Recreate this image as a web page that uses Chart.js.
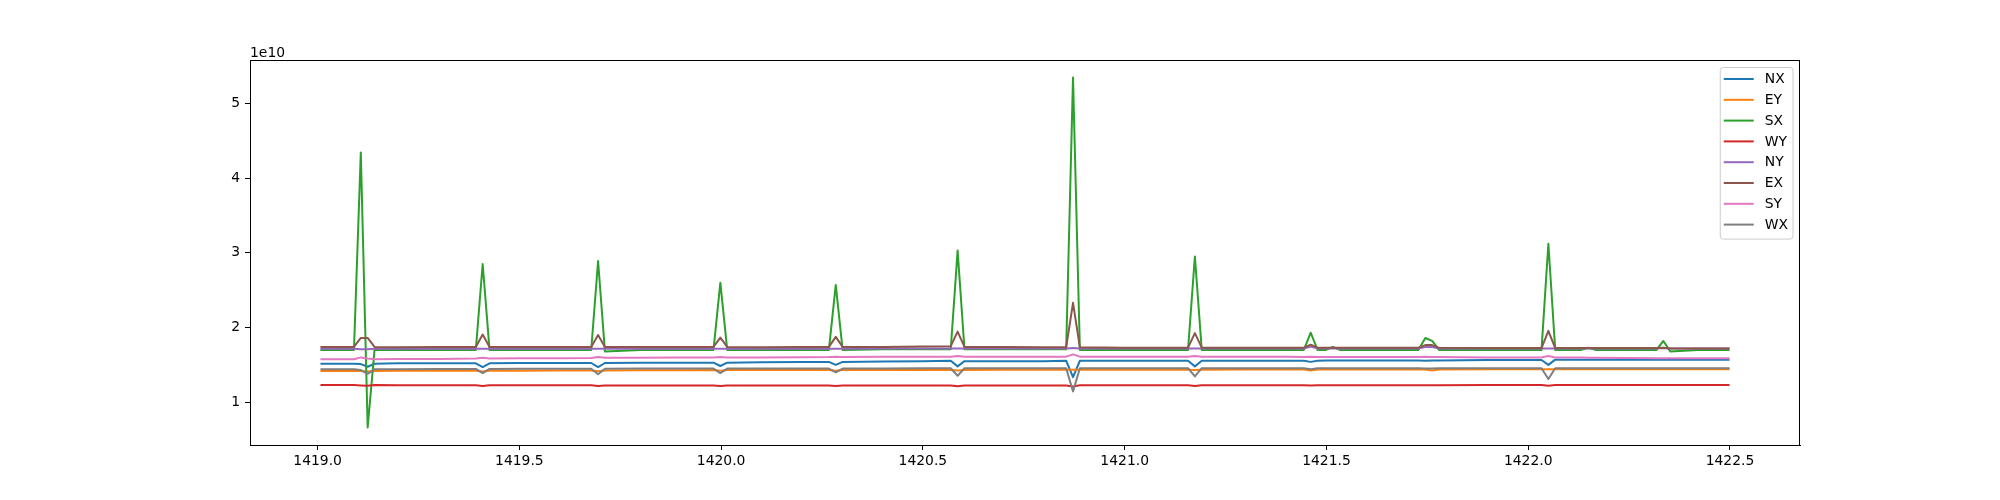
<!DOCTYPE html>
<html>
<head>
<meta charset="utf-8">
<title>NX / EY / SX / WY / NY / EX / SY / WX</title>
<script src="https://cdn.jsdelivr.net/npm/chart.js@4.4.1/dist/chart.umd.min.js"></script>
<style>
    html, body { margin: 0; padding: 0; background: #fff; }
    canvas { display: block; }
</style>
</head>
<body>
<canvas id="chart" width="2000" height="500"></canvas>
<script>
// ===== data (values in units of 1e10) =====

const times = [
    1419.007, 1419.050, 1419.090, 1419.107, 1419.124, 1419.141, 1419.200, 1419.300, 1419.392, 1419.409,
    1419.426, 1419.500, 1419.600, 1419.678, 1419.695, 1419.712, 1419.800, 1419.900, 1419.981, 1419.998,
    1420.015, 1420.100, 1420.200, 1420.267, 1420.284, 1420.301, 1420.400, 1420.500, 1420.569, 1420.586,
    1420.603, 1420.700, 1420.800, 1420.855, 1420.872, 1420.889, 1421.000, 1421.100, 1421.157, 1421.174,
    1421.191, 1421.300, 1421.400, 1421.444, 1421.461, 1421.478, 1421.499, 1421.516, 1421.533, 1421.600,
    1421.700, 1421.728, 1421.745, 1421.762, 1421.779, 1421.900, 1422.000, 1422.033, 1422.050, 1422.067,
    1422.132, 1422.149, 1422.166, 1422.250, 1422.318, 1422.335, 1422.352, 1422.420, 1422.499
];

const NX = [
    1.515, 1.515, 1.515, 1.51, 1.475, 1.515, 1.52, 1.52, 1.52, 1.47,
    1.52, 1.525, 1.525, 1.525, 1.47, 1.525, 1.53, 1.53, 1.53, 1.485,
    1.53, 1.535, 1.54, 1.54, 1.50, 1.54, 1.545, 1.55, 1.555, 1.48,
    1.55, 1.55, 1.55, 1.555, 1.335, 1.555, 1.555, 1.555, 1.555, 1.48,
    1.555, 1.555, 1.555, 1.555, 1.54, 1.555, 1.56, 1.56, 1.56, 1.56,
    1.56, 1.56, 1.555, 1.56, 1.56, 1.565, 1.565, 1.565, 1.50, 1.57,
    1.57, 1.57, 1.57, 1.57, 1.57, 1.57, 1.57, 1.57, 1.57
];

const EY = [
    1.418, 1.418, 1.418, 1.418, 1.41, 1.418, 1.42, 1.42, 1.42, 1.41,
    1.42, 1.422, 1.425, 1.425, 1.415, 1.425, 1.427, 1.428, 1.43, 1.42,
    1.43, 1.43, 1.43, 1.43, 1.42, 1.432, 1.432, 1.432, 1.432, 1.425,
    1.433, 1.434, 1.435, 1.435, 1.435, 1.435, 1.436, 1.436, 1.436, 1.43,
    1.436, 1.437, 1.437, 1.437, 1.425, 1.437, 1.437, 1.437, 1.437, 1.438,
    1.438, 1.438, 1.438, 1.425, 1.438, 1.44, 1.44, 1.44, 1.44, 1.44,
    1.44, 1.44, 1.44, 1.44, 1.44, 1.44, 1.44, 1.44, 1.44
];

const SX = [
    1.70, 1.70, 1.70, 4.34, 0.662, 1.70, 1.70, 1.70, 1.70, 2.85,
    1.70, 1.70, 1.70, 1.70, 2.89, 1.68, 1.70, 1.70, 1.70, 2.60,
    1.70, 1.70, 1.70, 1.70, 2.57, 1.70, 1.71, 1.71, 1.71, 3.03,
    1.71, 1.71, 1.71, 1.71, 5.345, 1.70, 1.70, 1.70, 1.70, 2.95,
    1.70, 1.70, 1.70, 1.70, 1.93, 1.70, 1.70, 1.74, 1.70, 1.70,
    1.70, 1.70, 1.86, 1.82, 1.70, 1.70, 1.70, 1.70, 3.12, 1.70,
    1.70, 1.73, 1.70, 1.70, 1.70, 1.82, 1.68, 1.70, 1.70
];

const WY = [
    1.23, 1.23, 1.23, 1.225, 1.222, 1.23, 1.228, 1.228, 1.228, 1.218,
    1.226, 1.226, 1.226, 1.226, 1.218, 1.225, 1.225, 1.225, 1.225, 1.218,
    1.224, 1.224, 1.224, 1.224, 1.218, 1.224, 1.224, 1.224, 1.224, 1.215,
    1.224, 1.224, 1.224, 1.224, 1.21, 1.226, 1.226, 1.226, 1.226, 1.216,
    1.228, 1.228, 1.228, 1.228, 1.224, 1.228, 1.228, 1.228, 1.228, 1.228,
    1.228, 1.228, 1.226, 1.226, 1.228, 1.23, 1.23, 1.23, 1.222, 1.23,
    1.23, 1.23, 1.23, 1.232, 1.232, 1.232, 1.232, 1.232, 1.232
];

const NY = [
    1.715, 1.715, 1.715, 1.71, 1.71, 1.715, 1.715, 1.715, 1.715, 1.715,
    1.715, 1.715, 1.715, 1.715, 1.715, 1.715, 1.715, 1.715, 1.715, 1.715,
    1.715, 1.715, 1.715, 1.715, 1.715, 1.715, 1.718, 1.72, 1.72, 1.72,
    1.72, 1.72, 1.72, 1.72, 1.725, 1.72, 1.72, 1.72, 1.72, 1.72,
    1.72, 1.72, 1.72, 1.72, 1.745, 1.72, 1.72, 1.72, 1.72, 1.72,
    1.72, 1.72, 1.74, 1.74, 1.72, 1.72, 1.72, 1.72, 1.72, 1.72,
    1.72, 1.72, 1.72, 1.72, 1.72, 1.725, 1.72, 1.72, 1.72
];

const EX = [
    1.74, 1.74, 1.74, 1.86, 1.86, 1.74, 1.735, 1.74, 1.74, 1.905,
    1.74, 1.74, 1.74, 1.74, 1.90, 1.74, 1.74, 1.74, 1.74, 1.865,
    1.74, 1.735, 1.74, 1.74, 1.875, 1.74, 1.74, 1.745, 1.75, 1.945,
    1.74, 1.74, 1.735, 1.735, 2.33, 1.735, 1.73, 1.73, 1.73, 1.925,
    1.73, 1.73, 1.73, 1.73, 1.77, 1.73, 1.73, 1.73, 1.73, 1.73,
    1.73, 1.73, 1.765, 1.765, 1.73, 1.725, 1.725, 1.725, 1.955, 1.725,
    1.725, 1.725, 1.725, 1.725, 1.725, 1.73, 1.72, 1.72, 1.72
];

const SY = [
    1.575, 1.575, 1.575, 1.60, 1.585, 1.575, 1.578, 1.58, 1.585, 1.595,
    1.585, 1.588, 1.59, 1.592, 1.605, 1.595, 1.595, 1.597, 1.598, 1.605,
    1.60, 1.60, 1.603, 1.605, 1.61, 1.605, 1.607, 1.61, 1.61, 1.62,
    1.61, 1.61, 1.61, 1.61, 1.64, 1.61, 1.61, 1.61, 1.61, 1.62,
    1.61, 1.61, 1.61, 1.605, 1.61, 1.605, 1.605, 1.605, 1.605, 1.605,
    1.605, 1.605, 1.61, 1.605, 1.605, 1.60, 1.60, 1.60, 1.62, 1.60,
    1.598, 1.596, 1.595, 1.593, 1.59, 1.59, 1.59, 1.588, 1.588
];

const WX = [
    1.44, 1.44, 1.44, 1.43, 1.38, 1.44, 1.443, 1.445, 1.445, 1.39,
    1.445, 1.447, 1.447, 1.447, 1.375, 1.447, 1.45, 1.45, 1.45, 1.39,
    1.45, 1.45, 1.45, 1.45, 1.40, 1.45, 1.452, 1.455, 1.455, 1.355,
    1.455, 1.455, 1.455, 1.455, 1.145, 1.455, 1.455, 1.455, 1.455, 1.345,
    1.455, 1.455, 1.455, 1.455, 1.44, 1.455, 1.455, 1.455, 1.455, 1.455,
    1.455, 1.455, 1.45, 1.45, 1.455, 1.455, 1.455, 1.455, 1.31, 1.455,
    1.455, 1.455, 1.455, 1.455, 1.455, 1.455, 1.455, 1.455, 1.455
];

const seriesNames = ['NX', 'EY', 'SX', 'WY', 'NY', 'EX', 'SY', 'WX'];
const seriesValues = [NX, EY, SX, WY, NY, EX, SY, WX];
const seriesColors = ['#1f77b4', '#ff7f0e', '#2ca02c', '#d62728', '#9467bd', '#8c564b', '#e377c2', '#7f7f7f'];

const xTickValues = [1419.0, 1419.5, 1420.0, 1420.5, 1421.0, 1421.5, 1422.0, 1422.5];
const yTickValues = [1, 2, 3, 4, 5];
const yOffsetLabel = '1e10';

// ===== helpers =====

const FONT_FAMILY = "'DejaVu Sans', sans-serif";
const FONT_SIZE = 13.9;

// autoscale like matplotlib: 5% margin on each side
function paddedRange(values) {
    const lo = Math.min(...values);
    const hi = Math.max(...values);
    const pad = (hi - lo) * 0.05;
    return { min: lo - pad, max: hi + pad };
}

const xRange = paddedRange(times);
const yRange = paddedRange(seriesValues.flat());

// black box round the plot area
const framePlugin = {
    id: 'frame',
    afterDatasetsDraw(chart) {
        const { ctx, chartArea: a } = chart;
        ctx.save();
        ctx.strokeStyle = '#000';
        ctx.lineWidth = 1;
        ctx.strokeRect(Math.round(a.left) + 0.5, Math.round(a.top) + 0.5,
            Math.round(a.right - a.left) - 1, Math.round(a.bottom - a.top));
        ctx.restore();
    }
};

// the "1e10" scale text above the y axis
const offsetTextPlugin = {
    id: 'offsetText',
    afterDraw(chart) {
        const { ctx, chartArea: a } = chart;
        ctx.save();
        ctx.font = `${FONT_SIZE}px ${FONT_FAMILY}`;
        ctx.fillStyle = '#000';
        ctx.textAlign = 'left';
        ctx.textBaseline = 'alphabetic';
        ctx.fillText(yOffsetLabel, a.left, a.top - 3.5);
        ctx.restore();
    }
};

// legend box in the upper right corner of the plot area
const legendPlugin = {
    id: 'boxLegend',
    afterDraw(chart) {
        const { ctx, chartArea: a } = chart;
        const datasets = chart.data.datasets;
        ctx.save();
        ctx.font = `${FONT_SIZE}px ${FONT_FAMILY}`;
        const maxW = Math.max(...datasets.map(d => ctx.measureText(d.label).width));
        const rowH = 20.8;
        const boxRight = a.right - 7;
        const boxTop = a.top + 7.5;
        const textX = boxRight - 5 - maxW;
        const handleEnd = textX - 11;
        const handleStart = handleEnd - 30;
        const boxLeft = handleStart - 3.5;
        const boxBottom = boxTop + 11.5 + rowH * (datasets.length - 1) + 14.5;

        ctx.beginPath();
        ctx.roundRect(boxLeft, boxTop, boxRight - boxLeft, boxBottom - boxTop, 3);
        ctx.fillStyle = 'rgba(255,255,255,0.8)';
        ctx.fill();
        ctx.strokeStyle = '#cccccc';
        ctx.lineWidth = 1;
        ctx.stroke();

        ctx.textAlign = 'left';
        ctx.textBaseline = 'middle';
        datasets.forEach((d, i) => {
            const y = boxTop + 11.5 + i * rowH;
            ctx.beginPath();
            ctx.moveTo(handleStart, y);
            ctx.lineTo(handleEnd, y);
            ctx.strokeStyle = d.borderColor;
            ctx.lineWidth = 2;
            ctx.stroke();
            ctx.fillStyle = '#000';
            ctx.fillText(d.label, textX, y + 0.5);
        });
        ctx.restore();
    }
};

// ===== chart =====

const datasets = seriesNames.map((name, i) => ({
    label: name,
    data: times.map((t, k) => ({ x: t, y: seriesValues[i][k] })),
    borderColor: seriesColors[i],
    backgroundColor: seriesColors[i],
    borderWidth: 2,
    borderJoinStyle: 'round',
    pointRadius: 0,
    tension: 0,
    fill: false,
    // later series on top, as in the reference
    order: seriesNames.length - i
}));

const tickFont = { family: FONT_FAMILY, size: FONT_SIZE };

new Chart(document.getElementById('chart'), {
    type: 'line',
    data: { datasets },
    options: {
        responsive: false,
        animation: false,
        events: [],
        layout: { padding: { top: 60, right: 200, left: 0, bottom: 0 } },
        plugins: {
            legend: { display: false },
            tooltip: { enabled: false }
        },
        scales: {
            x: {
                type: 'linear',
                min: xRange.min,
                max: xRange.max,
                afterFit: (scale) => { scale.height = 55; },
                afterBuildTicks: (scale) => { scale.ticks = xTickValues.map(v => ({ value: v })); },
                grid: { drawOnChartArea: false, tickLength: 5, tickColor: '#000', tickWidth: 1 },
                border: { display: true, color: '#000', width: 1 },
                ticks: {
                    color: '#000',
                    font: tickFont,
                    padding: 3,
                    maxRotation: 0,
                    autoSkip: false,
                    callback: (v) => Number(v).toFixed(1)
                }
            },
            y: {
                type: 'linear',
                min: yRange.min,
                max: yRange.max,
                afterFit: (scale) => { scale.width = 250; },
                afterBuildTicks: (scale) => { scale.ticks = yTickValues.map(v => ({ value: v })); },
                grid: { drawOnChartArea: false, tickLength: 5, tickColor: '#000', tickWidth: 1 },
                border: { display: true, color: '#000', width: 1 },
                ticks: {
                    color: '#000',
                    font: tickFont,
                    padding: 5,
                    autoSkip: false,
                    callback: (v) => String(v)
                }
            }
        }
    },
    plugins: [framePlugin, offsetTextPlugin, legendPlugin]
});
</script>
</body>
</html>
